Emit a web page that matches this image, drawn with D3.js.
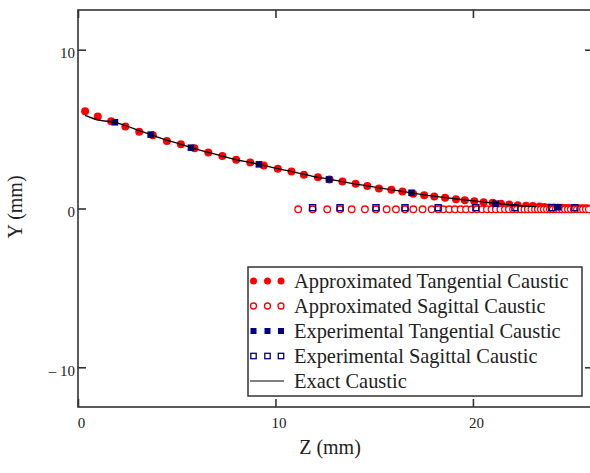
<!DOCTYPE html>
<html>
<head>
<meta charset="utf-8">
<script src="https://cdn.jsdelivr.net/npm/d3@7"></script>
<style>
  body { margin: 0; background: #fff; }
  svg text { font-family: "Liberation Serif", "Times New Roman", Times, serif; }
</style>
</head>
<body>
<div id="chart"></div>
<script>
// Approximated tangential caustic (filled red circles)
const approxTanZ = [0.36, 1.00, 1.68, 2.40, 3.10, 3.79, 4.50, 5.21, 5.90, 6.60, 7.31, 8.01, 8.72, 9.41,
  10.12, 10.81, 11.44, 12.15, 12.74, 13.39, 14.06, 14.65, 15.24, 15.87, 16.43, 16.97, 17.53, 18.04,
  18.59, 19.14, 19.59, 20.07, 20.54, 21.00, 21.42, 21.84, 22.27, 22.69, 23.03, 23.37, 23.62, 23.87,
  24.10, 24.32, 24.52, 24.72, 24.90, 25.08, 25.25, 25.42, 25.58, 25.74, 25.90, 26.05];
const approxTanY = [6.12, 5.80, 5.49, 5.17, 4.84, 4.61, 4.25, 4.04, 3.80, 3.53, 3.30, 3.07, 2.90, 2.70,
  2.51, 2.33, 2.12, 1.97, 1.83, 1.70, 1.56, 1.41, 1.26, 1.18, 1.07, 0.93, 0.84, 0.76,
  0.68, 0.59, 0.52, 0.46, 0.40, 0.36, 0.30, 0.25, 0.21, 0.17, 0.15, 0.13, 0.09, 0.07,
  0.06, 0.05, 0.04, 0.03, 0.03, 0.02, 0.02, 0.01, 0.01, 0.01, 0.00, 0.00];

// Approximated sagittal caustic (open red circles), all near Y = 0
const approxSagZ = [11.15, 11.88, 12.62, 13.27, 13.86, 14.53, 15.09, 15.63, 16.10, 16.56, 16.98, 17.45,
  17.91, 18.24, 18.50, 18.80, 19.09, 19.38, 19.65, 19.93, 20.20, 20.46, 20.71, 20.94, 21.16, 21.39,
  21.62, 21.82, 22.03, 22.23, 22.43, 22.61, 22.78, 22.96, 23.14, 23.29, 23.44, 23.59, 23.75, 23.90,
  24.05, 24.20, 24.35, 24.51, 24.66, 24.81, 24.96, 25.11, 25.27, 25.42, 25.57, 25.72, 25.87];
const approxSagY = approxSagZ.map(() => -0.05);

// Experimental tangential caustic (filled navy squares)
const expTanZ = [1.87, 3.68, 5.72, 9.16, 12.71, 16.89, 21.15, 24.32];
const expTanY = [5.43, 4.65, 3.83, 2.78, 1.83, 0.99, 0.30, 0.08];

// Experimental sagittal caustic (open navy squares)
const expSagZ = [11.88, 13.27, 15.09, 16.56, 18.24, 20.15, 22.13, 23.99, 25.16];
const expSagY = [0.05, 0.05, 0.05, 0.05, 0.05, 0.05, 0.05, 0.05, 0.05];

// Exact caustic (black line)
const exactZ = [0.36, 1.00, 1.88, 2.50, 3.10, 3.69, 4.50, 5.21, 5.74, 6.60, 7.31, 8.01, 8.72, 9.41,
  10.12, 11.00, 12.00, 12.74, 13.50, 14.50, 15.50, 16.50, 16.90, 17.50, 18.50, 19.50, 20.50, 21.20,
  22.00, 22.70, 23.20];
const exactY = [5.87, 5.58, 5.42, 5.18, 4.90, 4.65, 4.30, 4.04, 3.83, 3.53, 3.30, 3.07, 2.90, 2.72,
  2.51, 2.28, 2.00, 1.84, 1.66, 1.45, 1.25, 1.06, 0.99, 0.86, 0.70, 0.55, 0.42, 0.32,
  0.22, 0.15, 0.12];

const xTicks = [0, 10, 20];
const yTicks = [-10, 0, 10];
const yTickLabels = ["\u2013 10", "0", "10"];

const legendLabels = ["Approximated Tangential Caustic", "Approximated Sagittal Caustic",
  "Experimental Tangential Caustic", "Experimental Sagittal Caustic", "Exact Caustic"];

// Layout
const W = 590, H = 473;
const plot = { left: 78, top: 10, right: 593, bottom: 407 };
const frameColor = "#333";
const serif = '"Liberation Serif", "Times New Roman", Times, serif';

const svg = d3.select("#chart").append("svg")
  .attr("width", W)
  .attr("height", H)
  .attr("font-family", serif);

const x = d3.scaleLinear().domain([0, 26.08]).range([plot.left, plot.right]);
const y = d3.scaleLinear().domain([-12.5, 12.5]).range([plot.bottom, plot.top]);

const zip = (a, b) => a.map((v, i) => [v, b[i]]);

// Frame
svg.append("rect")
  .attr("x", plot.left).attr("y", plot.top)
  .attr("width", plot.right - plot.left).attr("height", plot.bottom - plot.top)
  .attr("fill", "none").attr("stroke", frameColor).attr("stroke-width", 1.6);

function styleAxis(g) {
  g.attr("font-family", serif).attr("font-size", 15);
  g.select(".domain").remove();
  g.selectAll(".tick line").attr("stroke", frameColor).attr("stroke-width", 1.6);
  g.selectAll(".tick text").attr("fill", "#222");
}

svg.append("g").attr("transform", `translate(0,${plot.bottom})`)
  .call(d3.axisBottom(x).tickValues(xTicks).tickSize(-8).tickPadding(10).tickFormat(d3.format("d")))
  .call(styleAxis)
  .call(g => g.selectAll(".tick text").attr("x", 3));

svg.append("g").attr("transform", `translate(0,${plot.top})`)
  .call(d3.axisTop(x).tickValues(xTicks).tickSize(-8).tickFormat(""))
  .call(styleAxis);

svg.append("g").attr("transform", `translate(${plot.left},0)`)
  .call(d3.axisLeft(y).tickValues(yTicks).tickSize(-8).tickPadding(3)
    .tickFormat((d, i) => yTickLabels[i]))
  .call(styleAxis)
  .call(g => g.selectAll(".tick text").attr("dy", "0.55em"));

svg.append("g").attr("transform", `translate(${plot.right},0)`)
  .call(d3.axisRight(y).tickValues(yTicks).tickSize(-8).tickFormat(""))
  .call(styleAxis);

// Axis titles
svg.append("text")
  .attr("x", 330).attr("y", 454)
  .attr("text-anchor", "middle")
  .attr("font-size", 20).attr("fill", "#222")
  .text("Z (mm)");

svg.append("text")
  .attr("transform", "translate(22,207) rotate(-90)")
  .attr("text-anchor", "middle")
  .attr("font-size", 20).attr("fill", "#222")
  .text("Y (mm)");

// Marks
const marks = svg.append("g");

marks.selectAll(".atan").data(zip(approxTanZ, approxTanY)).enter().append("circle")
  .attr("cx", d => x(d[0])).attr("cy", d => y(d[1]))
  .attr("r", 4).attr("fill", "#ff0000");

marks.selectAll(".asag").data(zip(approxSagZ, approxSagY)).enter().append("circle")
  .attr("cx", d => x(d[0])).attr("cy", d => y(d[1]))
  .attr("r", 3.3).attr("fill", "#fff").attr("stroke", "#ff0000").attr("stroke-width", 1.3);

marks.selectAll(".etan").data(zip(expTanZ, expTanY)).enter().append("rect")
  .attr("x", d => x(d[0]) - 3.3).attr("y", d => y(d[1]) - 3.3)
  .attr("width", 6.6).attr("height", 6.6).attr("fill", "#000080");

marks.selectAll(".esag").data(zip(expSagZ, expSagY)).enter().append("rect")
  .attr("x", d => x(d[0]) - 3).attr("y", d => y(d[1]) - 3)
  .attr("width", 6).attr("height", 6)
  .attr("fill", "none").attr("stroke", "#000080").attr("stroke-width", 1.4);

marks.append("path")
  .datum(zip(exactZ, exactY))
  .attr("fill", "none").attr("stroke", "#000").attr("stroke-width", 1.3)
  .attr("d", d3.line().x(d => x(d[0])).y(d => y(d[1])).curve(d3.curveMonotoneX));

// Legend
const legend = svg.append("g");
legend.append("rect")
  .attr("x", 248).attr("y", 267).attr("width", 334).attr("height", 129)
  .attr("fill", "#fff").attr("stroke", frameColor).attr("stroke-width", 1.5);

const rowY = i => 281 + i * 25;
const symX = [253.5, 267.5, 281];

legend.selectAll(".l0").data(symX).enter().append("circle")
  .attr("cx", d => d).attr("cy", rowY(0)).attr("r", 3.5).attr("fill", "#ff0000");
legend.selectAll(".l1").data(symX).enter().append("circle")
  .attr("cx", d => d).attr("cy", rowY(1)).attr("r", 3)
  .attr("fill", "none").attr("stroke", "#ff0000").attr("stroke-width", 1.3);
legend.selectAll(".l2").data(symX).enter().append("rect")
  .attr("x", d => d - 3).attr("y", rowY(2) - 3).attr("width", 6).attr("height", 6).attr("fill", "#000080");
legend.selectAll(".l3").data(symX).enter().append("rect")
  .attr("x", d => d - 2.7).attr("y", rowY(3) - 2.7).attr("width", 5.4).attr("height", 5.4)
  .attr("fill", "none").attr("stroke", "#000080").attr("stroke-width", 1.3);
legend.append("line")
  .attr("x1", 250).attr("x2", 284).attr("y1", rowY(4)).attr("y2", rowY(4))
  .attr("stroke", "#000").attr("stroke-width", 1.2);

legend.selectAll(".ltext").data(legendLabels).enter().append("text")
  .attr("x", 294).attr("y", (d, i) => rowY(i) + 6.5)
  .attr("font-size", 20.4).attr("fill", "#222")
  .text(d => d);
</script>
</body>
</html>
